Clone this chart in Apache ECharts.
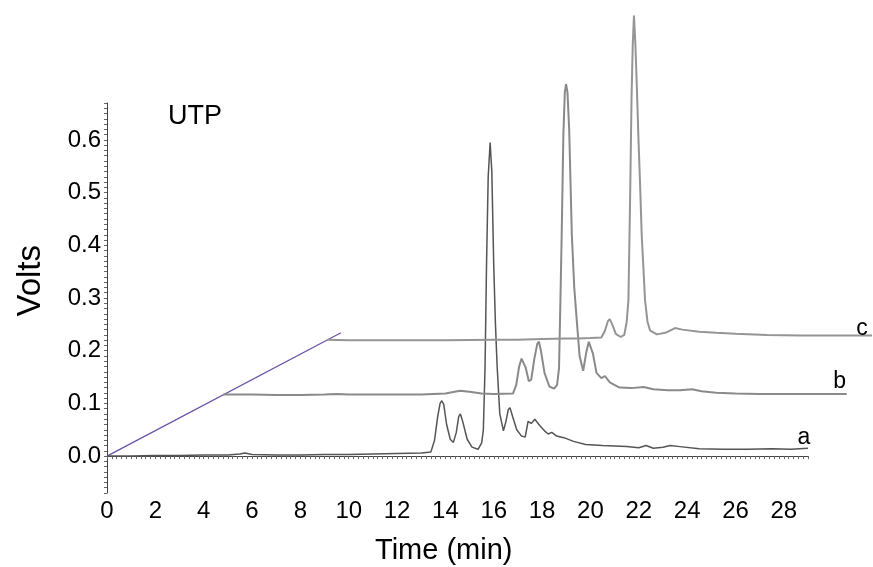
<!DOCTYPE html>
<html>
<head>
<meta charset="utf-8">
<script src="https://cdn.jsdelivr.net/npm/echarts@6/dist/echarts.min.js"></script>
<style>
html,body{margin:0;padding:0;background:#fff;}
#chart{width:873px;height:567px;}
</style>
</head>
<body>
<div id="chart"></div>
<script>
// Trace a (baseline 0)
var traceA = [[0,0],[1,0],[2,0.001],[3,0.001],[4,0.002],[5,0.002],[5.5,0.004],[5.7,0.006],[6,0.003],[7,0.002],[8,0.002],[9,0.003],[10,0.003],[11,0.004],[12,0.005],[13,0.006],[13.4,0.008],[13.55,0.03],[13.68,0.075],[13.78,0.1],[13.85,0.105],[13.93,0.098],[14.05,0.06],[14.2,0.032],[14.33,0.026],[14.45,0.045],[14.55,0.075],[14.62,0.08],[14.72,0.065],[14.9,0.032],[15.1,0.017],[15.35,0.013],[15.5,0.025],[15.57,0.05],[15.64,0.17],[15.7,0.36],[15.77,0.53],[15.85,0.595],[15.92,0.54],[16.0,0.36],[16.07,0.25],[16.14,0.17],[16.25,0.08],[16.4,0.048],[16.5,0.065],[16.6,0.088],[16.67,0.092],[16.78,0.075],[16.95,0.05],[17.15,0.038],[17.3,0.036],[17.42,0.066],[17.55,0.062],[17.7,0.07],[17.9,0.058],[18.1,0.048],[18.25,0.042],[18.4,0.045],[18.6,0.038],[18.9,0.035],[19.3,0.028],[19.8,0.022],[20.5,0.02],[21.5,0.018],[22.0,0.016],[22.3,0.02],[22.6,0.015],[23.0,0.017],[23.3,0.02],[23.7,0.018],[24.5,0.014],[25.5,0.013],[26.5,0.013],[27.5,0.014],[28.3,0.013],[29.0,0.015]];
// Trace b (offset baseline ~0.117)
var traceB = [[4.8,0.117],[6,0.117],[7,0.116],[8,0.116],[9,0.117],[9.5,0.118],[10,0.117],[11,0.117],[12,0.117],[13,0.117],[14,0.119],[14.6,0.124],[15,0.122],[15.5,0.119],[16,0.118],[16.8,0.119],[16.93,0.135],[17.05,0.17],[17.15,0.185],[17.22,0.187],[17.32,0.168],[17.45,0.142],[17.55,0.145],[17.68,0.185],[17.8,0.213],[17.87,0.217],[17.95,0.2],[18.1,0.158],[18.3,0.132],[18.5,0.128],[18.62,0.135],[18.7,0.167],[18.76,0.3],[18.81,0.42],[18.88,0.61],[18.94,0.69],[18.99,0.706],[19.05,0.69],[19.12,0.62],[19.23,0.42],[19.33,0.32],[19.43,0.26],[19.55,0.19],[19.7,0.162],[19.82,0.195],[19.93,0.217],[19.99,0.219],[20.1,0.195],[20.25,0.158],[20.45,0.148],[20.6,0.152],[20.8,0.14],[21.2,0.13],[21.7,0.129],[22.2,0.131],[22.6,0.127],[23.2,0.125],[23.7,0.125],[24.2,0.127],[24.6,0.123],[25.2,0.12],[26,0.119],[27,0.118],[28,0.118],[29,0.118],[30.6,0.118]];
// Trace c (offset baseline ~0.221)
var traceC = [[9.1,0.221],[10,0.22],[12,0.22],[14,0.22],[16,0.221],[17,0.221],[18,0.222],[19,0.223],[19.5,0.223],[20,0.224],[20.45,0.225],[20.6,0.238],[20.72,0.256],[20.8,0.26],[20.9,0.25],[21.05,0.232],[21.25,0.226],[21.4,0.23],[21.5,0.255],[21.57,0.295],[21.64,0.486],[21.7,0.68],[21.75,0.78],[21.8,0.836],[21.86,0.78],[21.92,0.7],[21.98,0.61],[22.05,0.52],[22.12,0.42],[22.26,0.295],[22.36,0.255],[22.47,0.238],[22.75,0.231],[23.1,0.234],[23.5,0.243],[23.8,0.24],[24.5,0.236],[25.2,0.234],[26,0.232],[27.3,0.23],[28.7,0.229],[30,0.229],[31.65,0.229]];
// Perspective (offset) guide line
var offsetLine = [[0,0],[9.68,0.234]];
var xTickLabels = [0,2,4,6,8,10,12,14,16,18,20,22,24,26,28];
var yTickLabels = [0,0.1,0.2,0.3,0.4,0.5,0.6];
var traceNames = ['a','b','c'];

var xMinor = [];
for (var i = 0; i <= 145; i++) xMinor.push(+(i*0.2).toFixed(2));
var yMinor = [];
for (var j = -7; j <= 67; j++) yMinor.push(+(j*0.01).toFixed(2));

var FONT = 'Liberation Sans, Arial, sans-serif';
var GL = 107, GT = 103, GB = 74, GR = 65;
var XMAX = 29, YMIN = -0.07, YMAX = 0.67;
var axisW = 873 - GL - GR;
var XMAX2 = XMAX * (873 - GL) / axisW;

var chart = echarts.init(document.getElementById('chart'), null, {renderer:'canvas'});
function trace(name, data, color, width, off) {
  return {
    type:'line', name:name, data:data, showSymbol:false, symbol:'none', clip:false,
    xAxisIndex:1, yAxisIndex:1,
    lineStyle:{color:color, width:width}, z:3,
    endLabel:{show:true, formatter:name, color:'#000', fontSize:23, fontFamily:FONT,
      align:'center', verticalAlign:'middle', distance:0, offset:off}
  };
}
chart.setOption({
  animation:false,
  backgroundColor:'#fff',
  title:{text:'UTP', left:163, top:98, textStyle:{fontSize:27, fontWeight:'normal', color:'#000', fontFamily:FONT}},
  graphic:[
    {type:'text', left:14, top:245, rotation:Math.PI/2,
      style:{text:'Volts', fill:'#000', font:'33px Liberation Sans, Arial, sans-serif'}},
    {type:'text', left:375, top:536,
      style:{text:'Time (min)', fill:'#000', font:'29px Liberation Sans, Arial, sans-serif'}}
  ],
  grid:[
    {left:GL, top:GT, right:GR, bottom:GB, outerBoundsMode:'none', containLabel:false},
    {left:GL, top:GT, right:0, bottom:GB, outerBoundsMode:'none', containLabel:false}
  ],
  xAxis:[{
    type:'value', min:0, max:XMAX, gridIndex:0,
    axisLine:{show:true, lineStyle:{color:'#444', width:1}},
    axisTick:{show:true, customValues:xMinor, length:3, inside:false, lineStyle:{color:'#666'}},
    axisLabel:{customValues:xTickLabels, fontSize:24, color:'#000', fontFamily:FONT, margin:6},
    splitLine:{show:false}
  },{
    type:'value', min:0, max:XMAX2, gridIndex:1, show:false
  }],
  yAxis:[{
    type:'value', min:YMIN, max:YMAX, gridIndex:0,
    axisLine:{show:true, lineStyle:{color:'#444', width:1}},
    axisTick:{show:true, customValues:yMinor, length:3, lineStyle:{color:'#666'}},
    axisLabel:{customValues:yTickLabels, fontSize:24, color:'#000', fontFamily:FONT, margin:6,
      formatter:function(v){return v.toFixed(1);}},
    splitLine:{show:false}
  },{
    type:'value', min:YMIN, max:YMAX, gridIndex:1, show:false
  }],
  series:[
    {type:'line', data:offsetLine, showSymbol:false, symbol:'none', clip:false,
      xAxisIndex:1, yAxisIndex:1,
      lineStyle:{color:'#6a4fa6', width:1.2}, z:2},
    trace(traceNames[0], traceA, '#555555', 1.5, [-4,-11]),
    trace(traceNames[1], traceB, '#8a8a8a', 2, [-7,-12]),
    trace(traceNames[2], traceC, '#959595', 2, [-10,-7])
  ]
});
</script>
</body>
</html>
